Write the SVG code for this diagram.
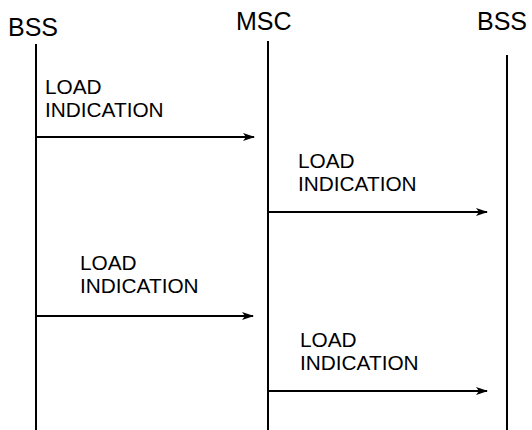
<svg xmlns="http://www.w3.org/2000/svg" width="532" height="430" viewBox="0 0 532 430">
<style>
.t{font-family:"Liberation Sans",Arial,sans-serif;fill:#000}
.h{font-size:25px}
.l{font-size:20.8px}
.life{stroke:#000;stroke-width:2;fill:none}
.msg{stroke:#000;stroke-width:2;fill:none;marker-end:url(#ah)}
</style>
<defs>
<marker id="ah" markerWidth="12" markerHeight="10" refX="11" refY="5" orient="auto" markerUnits="userSpaceOnUse">
<path d="M0,1 L12,5 L0,9 L3,5 Z" fill="#000"/>
</marker>
</defs>
<rect width="532" height="430" fill="#fff"/>
<g id="bss1">
<text class="t h" x="8" y="36">BSS</text>
<line class="life" x1="36" y1="44" x2="36" y2="430"/>
</g>
<g id="msc">
<text class="t h" x="236" y="30">MSC</text>
<line class="life" x1="268" y1="41" x2="268" y2="430"/>
</g>
<g id="bss2">
<text class="t h" x="477" y="30">BSS</text>
<line class="life" x1="507" y1="55" x2="507" y2="430"/>
</g>
<g id="connectors">
<line class="msg" x1="36" y1="137" x2="254" y2="137"/>
<line class="msg" x1="268" y1="212" x2="487" y2="212"/>
<line class="msg" x1="36" y1="316" x2="253" y2="316"/>
<line class="msg" x1="268" y1="391" x2="487" y2="391"/>
</g>
<g id="labels">
<text class="t l" x="45" y="94">LOAD<tspan x="45" y="117">INDICATION</tspan></text>
<text class="t l" x="298" y="168">LOAD<tspan x="298" y="191">INDICATION</tspan></text>
<text class="t l" x="80" y="270">LOAD<tspan x="80" y="293">INDICATION</tspan></text>
<text class="t l" x="300" y="347">LOAD<tspan x="300" y="370">INDICATION</tspan></text>
</g>
</svg>
